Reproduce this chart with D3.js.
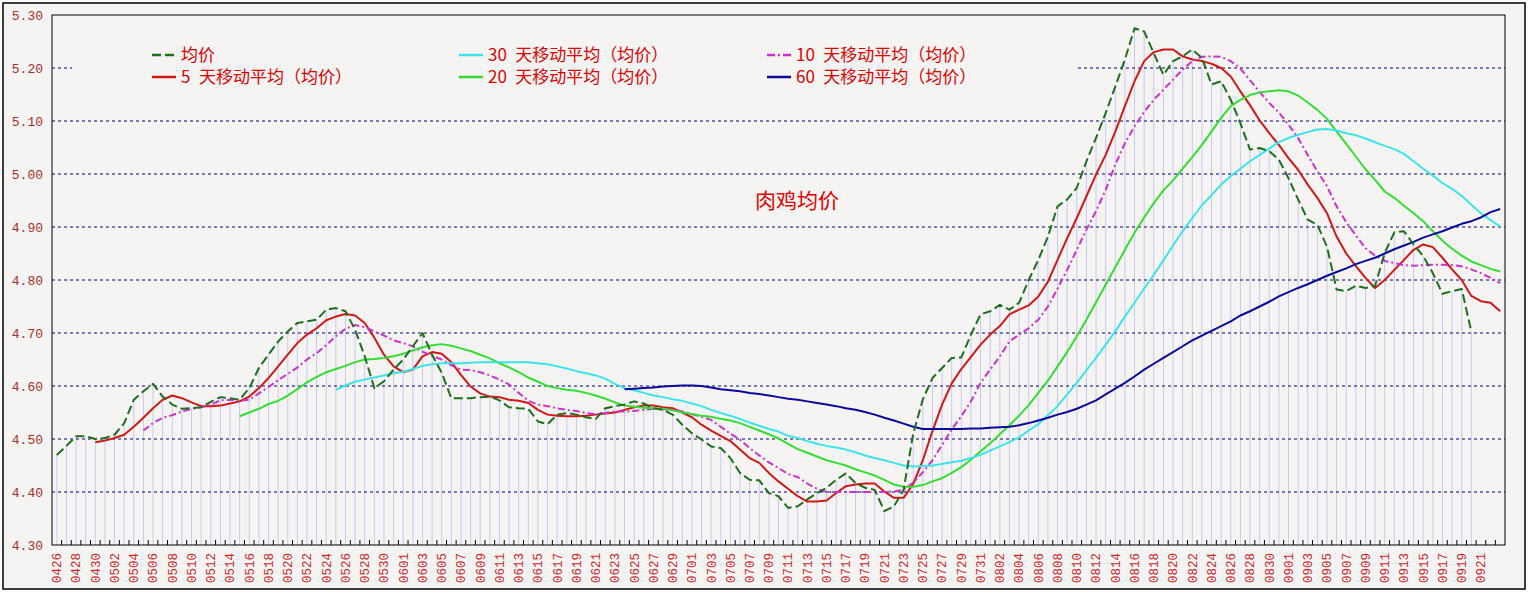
<!DOCTYPE html>
<html>
    <head>
        <meta charset="utf-8" />
        <title>肉鸡均价</title>
        <script src="https://d3js.org/d3.v7.min.js"></script>
        <style>
            body { margin: 0; background: #ffffff; }
            .line { fill: none; stroke-width: 2px; stroke-linejoin: round; }
            .ylab text { font-family: 'Liberation Mono', monospace; font-size: 13px; fill: #a8302a; }
            .xlab text { font-family: 'Liberation Mono', monospace; font-size: 12.5px; fill: #cc2a2a; }
            .legend text { font-family: 'Noto Sans CJK SC', sans-serif; font-size: 17px; fill: #dd0000; }
        </style>
    </head>
    <body>
        <div id="chart"></div>
        <script>
            // categories: every day from 0426 to 0923
            const dates = [
                '0426', '0427', '0428', '0429', '0430',
                '0501', '0502', '0503', '0504', '0505', '0506', '0507', '0508', '0509', '0510', '0511', '0512', '0513', '0514', '0515', '0516',
                '0517', '0518', '0519', '0520', '0521', '0522', '0523', '0524', '0525', '0526', '0527', '0528', '0529', '0530', '0531',
                '0601', '0602', '0603', '0604', '0605', '0606', '0607', '0608', '0609', '0610', '0611', '0612', '0613', '0614', '0615',
                '0616', '0617', '0618', '0619', '0620', '0621', '0622', '0623', '0624', '0625', '0626', '0627', '0628', '0629', '0630',
                '0701', '0702', '0703', '0704', '0705', '0706', '0707', '0708', '0709', '0710', '0711', '0712', '0713', '0714', '0715', '0716',
                '0717', '0718', '0719', '0720', '0721', '0722', '0723', '0724', '0725', '0726', '0727', '0728', '0729', '0730', '0731',
                '0801', '0802', '0803', '0804', '0805', '0806', '0807', '0808', '0809', '0810', '0811', '0812', '0813', '0814', '0815', '0816',
                '0817', '0818', '0819', '0820', '0821', '0822', '0823', '0824', '0825', '0826', '0827', '0828', '0829', '0830', '0831',
                '0901', '0902', '0903', '0904', '0905', '0906', '0907', '0908', '0909', '0910', '0911', '0912', '0913', '0914', '0915',
                '0916', '0917', '0918', '0919', '0920', '0921', '0922', '0923'
            ];
            const tickLabels = dates.filter((d, i) => i % 2 === 0 && i <= 148);
            const yTicks = [4.3, 4.4, 4.5, 4.6, 4.7, 4.8, 4.9, 5.0, 5.1, 5.2, 5.3];

            // 均价, from 0426
            const price = [
                4.470, 4.487, 4.505, 4.505, 4.500, 4.502, 4.508, 4.530, 4.574, 4.590, 4.604, 4.580, 4.565, 4.557, 4.558, 4.560, 4.570, 4.579, 4.577, 4.574,
                4.596, 4.634, 4.659, 4.684, 4.703, 4.719, 4.722, 4.725, 4.744, 4.747, 4.741, 4.706, 4.656, 4.596, 4.609, 4.631, 4.650, 4.675, 4.700, 4.659,
                4.625, 4.577, 4.577, 4.577, 4.579, 4.580, 4.573, 4.560, 4.558, 4.557, 4.533, 4.528, 4.546, 4.549, 4.546, 4.541, 4.538, 4.558, 4.562, 4.565,
                4.571, 4.567, 4.558, 4.555, 4.546, 4.527, 4.511, 4.499, 4.486, 4.483, 4.464, 4.436, 4.423, 4.422, 4.398, 4.392, 4.370, 4.373, 4.386, 4.398,
                4.408, 4.423, 4.435, 4.417, 4.408, 4.404, 4.364, 4.373, 4.404, 4.510, 4.575, 4.615, 4.634, 4.653, 4.654, 4.697, 4.735, 4.741, 4.753, 4.744,
                4.757, 4.800, 4.838, 4.882, 4.939, 4.952, 4.974, 5.024, 5.068, 5.115, 5.165, 5.216, 5.275, 5.269, 5.228, 5.187, 5.213, 5.222, 5.235, 5.219,
                5.169, 5.175, 5.140, 5.096, 5.046, 5.049, 5.043, 5.027, 4.992, 4.952, 4.914, 4.904, 4.863, 4.782, 4.779, 4.789, 4.785, 4.789, 4.851, 4.890,
                4.892, 4.867, 4.845, 4.813, 4.774, 4.779, 4.783, 4.703
            ];
            // 5 天移动平均, from 0430
            const ma5 = [
                4.494, 4.497, 4.502, 4.508, 4.523, 4.540, 4.558, 4.574, 4.582, 4.577, 4.569, 4.562, 4.562, 4.563, 4.567, 4.571, 4.580, 4.596, 4.615, 4.637,
                4.659, 4.681, 4.697, 4.709, 4.724, 4.731, 4.736, 4.733, 4.719, 4.691, 4.659, 4.637, 4.626, 4.631, 4.656, 4.664, 4.661, 4.645, 4.621, 4.599,
                4.586, 4.580, 4.579, 4.574, 4.572, 4.568, 4.555, 4.546, 4.544, 4.543, 4.543, 4.544, 4.546, 4.548, 4.550, 4.555, 4.560, 4.563, 4.563, 4.560,
                4.558, 4.550, 4.541, 4.527, 4.516, 4.506, 4.496, 4.480, 4.464, 4.455, 4.436, 4.420, 4.406, 4.392, 4.382, 4.382, 4.384, 4.398, 4.411, 4.414,
                4.416, 4.416, 4.401, 4.389, 4.389, 4.415, 4.460, 4.515, 4.565, 4.605, 4.632, 4.655, 4.678, 4.697, 4.713, 4.735, 4.744, 4.752, 4.769, 4.797,
                4.838, 4.879, 4.917, 4.958, 4.999, 5.036, 5.080, 5.128, 5.175, 5.213, 5.230, 5.235, 5.235, 5.222, 5.216, 5.213, 5.208, 5.200, 5.184, 5.156,
                5.130, 5.101, 5.077, 5.055, 5.030, 5.008, 4.980, 4.955, 4.926, 4.882, 4.850, 4.826, 4.804, 4.785, 4.800, 4.819, 4.838, 4.857, 4.867, 4.862,
                4.842, 4.820, 4.800, 4.770, 4.760, 4.757, 4.741
            ];
            // 10 天移动平均, from 0505
            const ma10 = [
                4.516, 4.530, 4.540, 4.545, 4.552, 4.557, 4.560, 4.565, 4.573, 4.574, 4.572, 4.574, 4.586, 4.598, 4.611, 4.623, 4.635, 4.650, 4.662, 4.677,
                4.694, 4.708, 4.715, 4.711, 4.703, 4.695, 4.686, 4.681, 4.675, 4.665, 4.657, 4.650, 4.639, 4.631, 4.630, 4.626, 4.620, 4.612, 4.603, 4.587,
                4.572, 4.565, 4.562, 4.558, 4.555, 4.553, 4.549, 4.547, 4.549, 4.552, 4.552, 4.553, 4.555, 4.557, 4.556, 4.555, 4.552, 4.547, 4.542, 4.536,
                4.523, 4.510, 4.499, 4.483, 4.469, 4.456, 4.445, 4.434, 4.428, 4.416, 4.406, 4.400, 4.400, 4.400, 4.400, 4.400, 4.400, 4.400, 4.401, 4.404,
                4.418, 4.437, 4.460, 4.489, 4.518, 4.543, 4.571, 4.606, 4.631, 4.656, 4.684, 4.697, 4.709, 4.725, 4.750, 4.784, 4.819, 4.857, 4.895, 4.930,
                4.970, 5.018, 5.058, 5.090, 5.117, 5.140, 5.159, 5.178, 5.197, 5.213, 5.221, 5.222, 5.221, 5.213, 5.199, 5.177, 5.155, 5.134, 5.116, 5.093,
                5.068, 5.036, 5.005, 4.977, 4.939, 4.909, 4.884, 4.860, 4.846, 4.836, 4.832, 4.828, 4.827, 4.828, 4.829, 4.829, 4.828, 4.826, 4.820, 4.813,
                4.804, 4.794
            ];
            // 20 天移动平均, from 0515
            const ma20 = [
                4.543, 4.550, 4.557, 4.566, 4.572, 4.582, 4.594, 4.607, 4.617, 4.626, 4.632, 4.638, 4.645, 4.650, 4.651, 4.653, 4.656, 4.661, 4.667, 4.673,
                4.677, 4.679, 4.676, 4.671, 4.666, 4.659, 4.652, 4.643, 4.635, 4.626, 4.616, 4.608, 4.600, 4.596, 4.593, 4.591, 4.587, 4.582, 4.576, 4.569,
                4.563, 4.561, 4.559, 4.558, 4.557, 4.554, 4.550, 4.547, 4.544, 4.542, 4.538, 4.535, 4.530, 4.523, 4.516, 4.509, 4.501, 4.491, 4.481, 4.474,
                4.467, 4.460, 4.455, 4.450, 4.443, 4.437, 4.431, 4.423, 4.414, 4.410, 4.410, 4.413, 4.420, 4.426, 4.436, 4.447, 4.461, 4.477, 4.492, 4.509,
                4.526, 4.544, 4.564, 4.587, 4.610, 4.637, 4.664, 4.694, 4.725, 4.758, 4.791, 4.824, 4.857, 4.889, 4.918, 4.945, 4.969, 4.988, 5.010, 5.032,
                5.055, 5.080, 5.106, 5.128, 5.140, 5.149, 5.154, 5.156, 5.158, 5.156, 5.148, 5.135, 5.121, 5.104, 5.080, 5.057, 5.033, 5.009, 4.989, 4.967,
                4.955, 4.940, 4.926, 4.911, 4.892, 4.874, 4.859, 4.846, 4.835, 4.828, 4.821, 4.816
            ];
            // 30 天移动平均, from 0525
            const ma30 = [
                4.593, 4.601, 4.608, 4.612, 4.616, 4.620, 4.624, 4.627, 4.632, 4.638, 4.641, 4.643, 4.643, 4.643, 4.644, 4.645, 4.645, 4.645, 4.645, 4.645,
                4.645, 4.643, 4.641, 4.637, 4.633, 4.628, 4.624, 4.620, 4.614, 4.604, 4.596, 4.592, 4.587, 4.582, 4.579, 4.575, 4.572, 4.567, 4.562, 4.555,
                4.549, 4.544, 4.538, 4.531, 4.525, 4.519, 4.514, 4.506, 4.502, 4.496, 4.491, 4.487, 4.484, 4.480, 4.475, 4.469, 4.464, 4.460, 4.455, 4.450,
                4.448, 4.449, 4.450, 4.453, 4.456, 4.459, 4.464, 4.470, 4.478, 4.486, 4.494, 4.503, 4.516, 4.528, 4.545, 4.562, 4.584, 4.606, 4.630, 4.653,
                4.678, 4.703, 4.731, 4.757, 4.784, 4.810, 4.837, 4.865, 4.892, 4.917, 4.941, 4.960, 4.980, 4.996, 5.010, 5.024, 5.036, 5.048, 5.060, 5.068,
                5.074, 5.079, 5.084, 5.085, 5.082, 5.077, 5.073, 5.067, 5.060, 5.053, 5.047, 5.038, 5.024, 5.010, 4.997, 4.983, 4.972, 4.959, 4.942, 4.926,
                4.913, 4.901
            ];
            // 60 天移动平均, from 0624
            const ma60 = [
                4.594, 4.595, 4.596, 4.597, 4.599, 4.600, 4.601, 4.601, 4.600, 4.597, 4.594, 4.592, 4.590, 4.587, 4.585, 4.582, 4.579, 4.576, 4.574, 4.571,
                4.568, 4.565, 4.562, 4.558, 4.555, 4.551, 4.546, 4.540, 4.535, 4.529, 4.523, 4.519, 4.519, 4.519, 4.519, 4.519, 4.520, 4.520, 4.521, 4.522,
                4.523, 4.526, 4.530, 4.535, 4.540, 4.546, 4.551, 4.557, 4.565, 4.573, 4.584, 4.595, 4.606, 4.618, 4.631, 4.642, 4.653, 4.664, 4.675, 4.686,
                4.695, 4.704, 4.713, 4.722, 4.733, 4.741, 4.750, 4.759, 4.769, 4.777, 4.785, 4.792, 4.800, 4.808, 4.815, 4.822, 4.830, 4.836, 4.842, 4.850,
                4.858, 4.865, 4.872, 4.880, 4.886, 4.892, 4.899, 4.906, 4.911, 4.918, 4.928, 4.934
            ];

            const series = [
                { name: '均价', values: price, from: '0426', color: '#1c6f1c', dash: '9,4' },
                { name: '5 天移动平均（均价）', values: ma5, from: '0430', color: '#d01818', dash: null },
                { name: '10 天移动平均（均价）', values: ma10, from: '0505', color: '#cc33cc', dash: '7,3,2,3' },
                { name: '20 天移动平均（均价）', values: ma20, from: '0515', color: '#33dd33', dash: null },
                { name: '30 天移动平均（均价）', values: ma30, from: '0525', color: '#3ce4ea', dash: null },
                { name: '60 天移动平均（均价）', values: ma60, from: '0624', color: '#0a0a9a', dash: null }
            ];
            // legend order as laid out: [column, row]
            const legendSpots = [[0, 0], [0, 1], [2, 0], [1, 1], [1, 0], [2, 1]];

            const svgWidth = 1533,
                svgHeight = 616;
            const plot = { left: 52, right: 1505, top: 15, bottom: 545 };
            const paper = '#f6f4f3';

            const svg = d3.select('#chart').append('svg').attr('width', svgWidth).attr('height', svgHeight);

            svg.append('rect').attr('x', 3).attr('y', 3).attr('width', 1522).attr('height', 586)
                .attr('fill', paper).attr('stroke', '#000').attr('stroke-width', 1.5);

            const x = d3.scaleBand().domain(dates).range([plot.left, plot.right]);
            const cx = (d) => x(d) + x.bandwidth() / 2;
            const y = d3.scaleLinear().domain([4.3, 5.3]).range([plot.bottom, plot.top]);

            // drop lines under the price series
            const pricePts = price.map((v, i) => [dates[i], v]);
            svg.append('g').selectAll('line').data(pricePts).enter().append('line')
                .attr('x1', (d) => cx(d[0])).attr('x2', (d) => cx(d[0]))
                .attr('y1', y(4.3)).attr('y2', (d) => y(d[1]))
                .attr('stroke', '#c8c8f0').attr('stroke-width', 1);

            // grid
            svg.append('g').selectAll('line').data(yTicks.filter((v) => v > 4.3 && v < 5.3)).enter().append('line')
                .attr('x1', plot.left).attr('x2', plot.right)
                .attr('y1', (d) => y(d)).attr('y2', (d) => y(d))
                .attr('stroke', '#000080').attr('stroke-width', 1).attr('stroke-dasharray', '3,3');

            // legend box hides the grid behind it
            svg.append('rect').attr('x', 72).attr('y', 38).attr('width', 1003).attr('height', 54).attr('fill', paper);

            svg.append('rect').attr('x', plot.left).attr('y', plot.top)
                .attr('width', plot.right - plot.left).attr('height', plot.bottom - plot.top)
                .attr('fill', 'none').attr('stroke', '#000').attr('stroke-width', 1);

            // daily ticks pointing into the plot
            svg.append('g').selectAll('line').data(dates.slice(1)).enter().append('line')
                .attr('x1', (d) => x(d)).attr('x2', (d) => x(d))
                .attr('y1', plot.bottom).attr('y2', plot.bottom - 5)
                .attr('stroke', '#000').attr('stroke-width', 1);

            const line = d3.line().x((d) => cx(d[0])).y((d) => y(d[1]));
            series.forEach((s) => {
                const start = dates.indexOf(s.from);
                const pts = s.values.map((v, i) => [dates[start + i], v]);
                s.path = svg.append('path').datum(pts).attr('class', 'line').attr('d', line)
                    .style('stroke', s.color).style('stroke-dasharray', s.dash);
            });
            // price on top
            series[0].path.raise();

            const yAxis = svg.append('g').attr('class', 'ylab')
                .attr('transform', `translate(${plot.left},0)`)
                .call(d3.axisLeft(y).tickValues(yTicks).tickFormat(d3.format('.2f')).tickSize(0).tickPadding(9));
            yAxis.select('.domain').remove();

            const xAxis = svg.append('g').attr('class', 'xlab')
                .attr('transform', `translate(0,${plot.bottom})`)
                .call(d3.axisBottom(x).tickValues(tickLabels).tickSize(0));
            xAxis.select('.domain').remove();
            xAxis.selectAll('text').attr('transform', 'rotate(-90)').attr('x', -8).attr('y', 0)
                .attr('dy', '0.35em').style('text-anchor', 'end');

            const legendCols = [152, 459, 767];
            const legendRows = [55, 77];
            const legend = svg.append('g').attr('class', 'legend');
            series.forEach((s, i) => {
                const [c, r] = legendSpots[i];
                const lx = legendCols[c],
                    ly = legendRows[r];
                legend.append('line').attr('x1', lx).attr('x2', lx + 24).attr('y1', ly).attr('y2', ly)
                    .attr('stroke', s.color).attr('stroke-width', 2.5)
                    .attr('stroke-dasharray', s.dash ? (i === 0 ? '9,4' : '8,3,2,3') : null);
                legend.append('text').attr('x', lx + 29).attr('y', ly).attr('dy', '0.36em')
                    .text(s.name.replace(' ', '\u2002'));
            });

            svg.append('text').attr('x', 755).attr('y', 208)
                .style('font-family', "'Noto Sans CJK SC', sans-serif").style('font-size', '21px').style('fill', '#e00000')
                .text('肉鸡均价');
        </script>
    </body>
</html>
